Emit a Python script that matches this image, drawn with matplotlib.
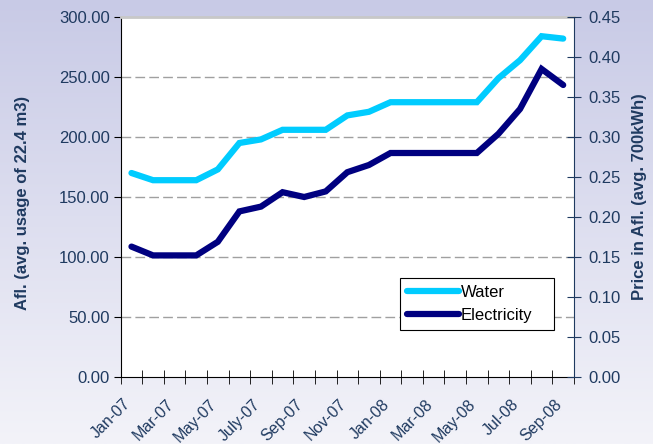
import numpy as np
import matplotlib
matplotlib.use("Agg")
import matplotlib.pyplot as plt

plt.rcParams['font.family'] = ['Liberation Sans', 'DejaVu Sans']

# monthly prices, Jan-07 .. Sep-08
months = ['Jan-07', 'Feb-07', 'Mar-07', 'Apr-07', 'May-07', 'Jun-07', 'July-07',
          'Aug-07', 'Sep-07', 'Oct-07', 'Nov-07', 'Dec-07', 'Jan-08', 'Feb-08',
          'Mar-08', 'Apr-08', 'May-08', 'Jun-08', 'Jul-08', 'Aug-08', 'Sep-08']
water = [170, 164, 164, 164, 173, 195, 198, 206, 206, 206, 218, 221,
         229, 229, 229, 229, 229, 249, 264, 284, 282]
electricity = [0.163, 0.152, 0.152, 0.152, 0.169, 0.207, 0.213, 0.231, 0.225,
               0.232, 0.256, 0.265, 0.280, 0.280, 0.280, 0.280, 0.280, 0.304,
               0.335, 0.385, 0.365]

txt = '#1F3A60'
c_water = '#00CCFF'
c_elec = '#000080'

fig = plt.figure(figsize=(6.53, 4.44), dpi=100)

# lavender gradient background
bg = fig.add_axes([0, 0, 1, 1], zorder=-10)
grad = np.linspace(0, 1, 256).reshape(-1, 1)
top = np.array([200, 202, 230]) / 255
bot = np.array([243, 243, 249]) / 255
img = top + (bot - top) * grad[:, :, None]
bg.imshow(img, aspect='auto', extent=[0, 1, 0, 1])
bg.axis('off')

ax = fig.add_axes([0.1848, 0.1509, 0.6942, 0.8108])
ax.set_facecolor('white')
ax2 = ax.twinx()

x = np.arange(len(months))
l1, = ax.plot(x, water, color=c_water, lw=4.5, solid_capstyle='round',
              solid_joinstyle='miter', label='Water', zorder=3)
l2, = ax2.plot(x, electricity, color=c_elec, lw=4.5, solid_capstyle='round',
               solid_joinstyle='miter', label='Electricity', zorder=3)

ax.set_xlim(-0.5, len(months) - 0.5)
ax.set_ylim(0, 300)
ax2.set_ylim(0, 0.45)
ax.set_yticks(np.arange(0, 301, 50))
ax2.set_yticks(np.arange(0, 0.451, 0.05))
ax.yaxis.set_major_formatter(plt.FormatStrFormatter('%.2f'))
ax2.yaxis.set_major_formatter(plt.FormatStrFormatter('%.2f'))

for v in range(50, 300, 50):
    ax.axhline(v, color='#A0A0A0', lw=1, dashes=(7, 3), zorder=1)

# labels sit a little left of the category centre, like Excel does
ax.set_xticks(x[::2] - 0.4)
ax.set_xticklabels(months[::2], rotation=45, ha='right', va='top',
                   rotation_mode='anchor', fontsize=11.5, color=txt)
ax.set_xticks(np.arange(-0.5, len(months)), minor=True)
ax.tick_params(axis='x', which='major', length=0, pad=14)
ax.tick_params(axis='x', which='minor', direction='inout', length=10, color='black')
ax.tick_params(axis='y', direction='out', length=5, labelsize=12, labelcolor=txt, pad=3)
ax2.tick_params(axis='y', direction='inout', length=10, labelsize=12,
                labelcolor=txt, color=txt, pad=5)

for sp in ['left', 'bottom']:
    ax.spines[sp].set_color('black')
ax.spines['top'].set_color('#C8C8C8')
ax.spines['top'].set_linewidth(2)
ax2.spines['top'].set_visible(False)
ax2.spines['left'].set_visible(False)
ax2.spines['bottom'].set_visible(False)
ax2.spines['right'].set_color(txt)
ax.spines['right'].set_visible(False)

ax.set_ylabel('Afl. (avg. usage of 22.4 m3)', fontsize=12, fontweight='bold',
              color=txt, va='center')
ax.yaxis.set_label_coords(-0.2155, 0.483)
ax2.set_ylabel('Price in Afl. (avg. 700kWh)', fontsize=12, fontweight='bold',
               color=txt, va='center')
ax2.yaxis.set_label_coords(1.1456, 0.501)

leg = ax2.legend([l1, l2], ['Water', 'Electricity'], loc='lower left',
                 bbox_to_anchor=(0.616, 0.13, 0.34, 0.145), mode='expand',
                 fontsize=12, fancybox=False, framealpha=1, edgecolor='black',
                 handlelength=3.1, handletextpad=0.1, borderaxespad=0,
                 labelspacing=0.45, borderpad=0.45)
leg.get_frame().set_linewidth(0.8)

fig.savefig('out.png', dpi=100)
